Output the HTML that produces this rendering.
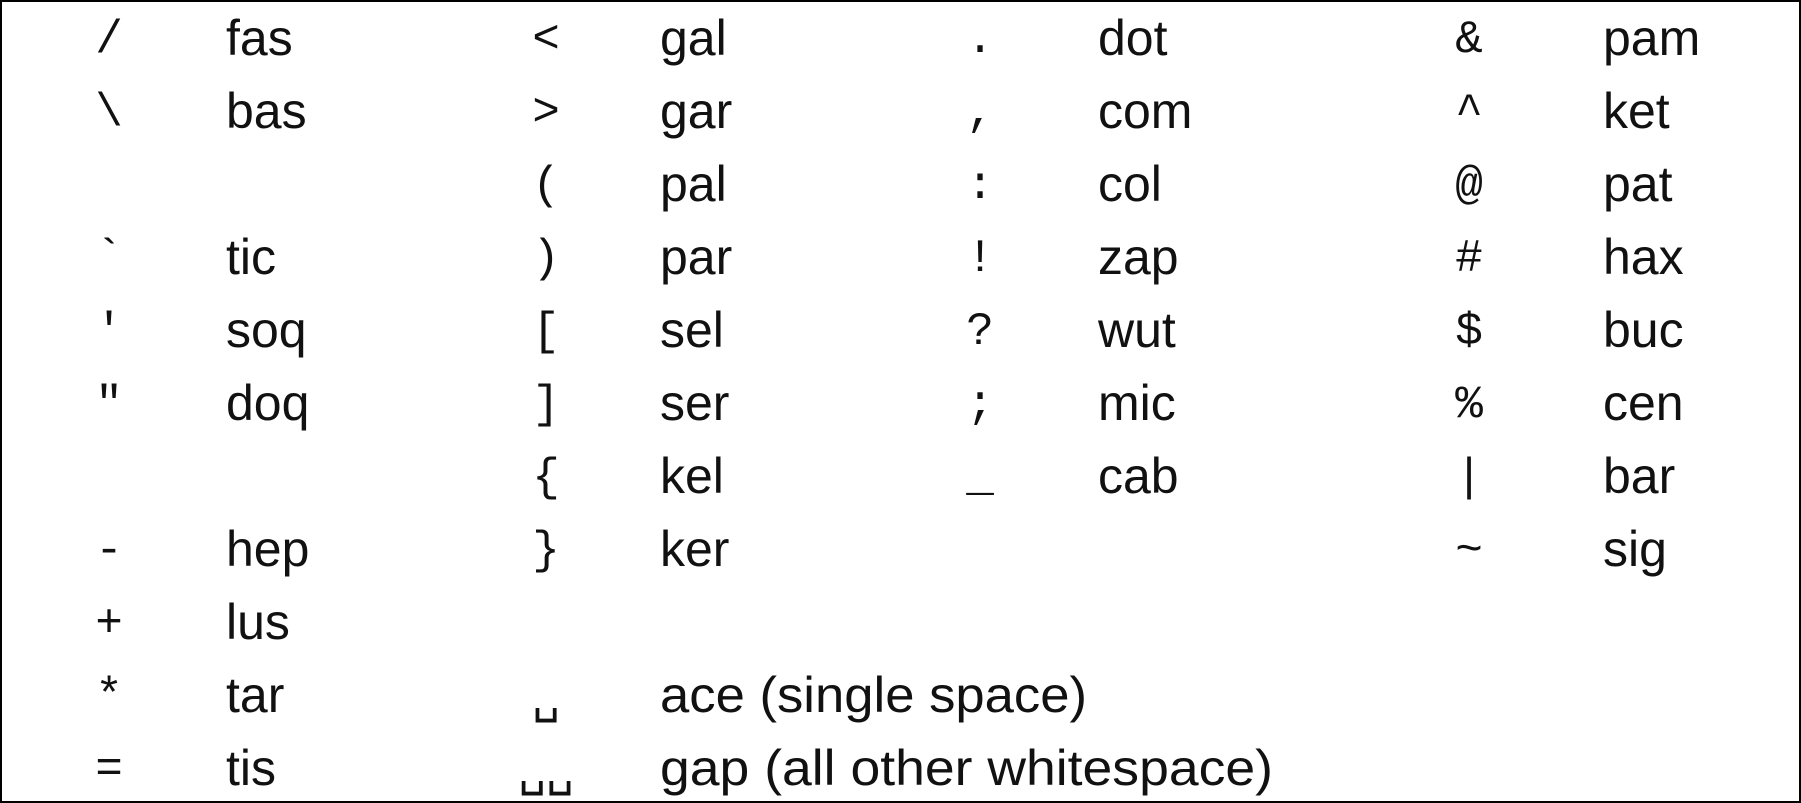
<!DOCTYPE html>
<html><head><meta charset="utf-8"><style>
html,body{margin:0;padding:0;background:#fff;}
svg{display:block;}
.l{font-family:"Liberation Sans",sans-serif;font-size:50px;fill:#111;}
.s{font-family:"Liberation Mono","DejaVu Sans Mono",monospace;font-size:46px;fill:#111;text-anchor:middle;}
</style></head><body>
<svg width="1801" height="803" viewBox="0 0 1801 803" xmlns="http://www.w3.org/2000/svg">
<rect x="1" y="1" width="1799" height="801" fill="#fff" stroke="#000" stroke-width="2"/>
<g class="s">
<text x="109" y="52">/</text>
<text x="109" y="125">\</text>
<text x="109" y="271">`</text>
<text x="109" y="344">'</text>
<text x="109" y="417">"</text>
<text x="109" y="563">-</text>
<text x="109" y="636">+</text>
<text x="109" y="709">*</text>
<text x="109" y="782">=</text>

<text x="546" y="52">&lt;</text>
<text x="546" y="125">&gt;</text>
<text x="546" y="198">(</text>
<text x="546" y="271">)</text>
<text x="546" y="344">[</text>
<text x="546" y="417">]</text>
<text x="546" y="490">{</text>
<text x="546" y="563">}</text>
<text x="546" y="712">␣</text>
<text x="546" y="785">␣␣</text>

<text x="980" y="52">.</text>
<text x="980" y="125">,</text>
<text x="980" y="198">:</text>
<text x="980" y="271">!</text>
<text x="980" y="344">?</text>
<text x="980" y="417">;</text>
<text x="980" y="490">_</text>

<text x="1469" y="52">&amp;</text>
<text x="1469" y="125">^</text>
<text x="1469" y="198">@</text>
<text x="1469" y="271">#</text>
<text x="1469" y="344">$</text>
<text x="1469" y="417">%</text>
<text x="1469" y="490">|</text>
<text x="1469" y="563">~</text>
</g>
<g class="l">
<text x="226" y="55">fas</text>
<text x="226" y="128">bas</text>
<text x="226" y="274">tic</text>
<text x="226" y="347">soq</text>
<text x="226" y="420">doq</text>
<text x="226" y="566">hep</text>
<text x="226" y="639">lus</text>
<text x="226" y="712">tar</text>
<text x="226" y="785">tis</text>

<text x="660" y="55">gal</text>
<text x="660" y="128">gar</text>
<text x="660" y="201">pal</text>
<text x="660" y="274">par</text>
<text x="660" y="347">sel</text>
<text x="660" y="420">ser</text>
<text x="660" y="493">kel</text>
<text x="660" y="566">ker</text>
<text x="660" y="712" textLength="427" lengthAdjust="spacingAndGlyphs">ace (single space)</text>
<text x="660" y="785" textLength="613" lengthAdjust="spacingAndGlyphs">gap (all other whitespace)</text>

<text x="1098" y="55">dot</text>
<text x="1098" y="128">com</text>
<text x="1098" y="201">col</text>
<text x="1098" y="274">zap</text>
<text x="1098" y="347">wut</text>
<text x="1098" y="420">mic</text>
<text x="1098" y="493">cab</text>

<text x="1603" y="55">pam</text>
<text x="1603" y="128">ket</text>
<text x="1603" y="201">pat</text>
<text x="1603" y="274">hax</text>
<text x="1603" y="347">buc</text>
<text x="1603" y="420">cen</text>
<text x="1603" y="493">bar</text>
<text x="1603" y="566">sig</text>
</g>
</svg>
</body></html>
